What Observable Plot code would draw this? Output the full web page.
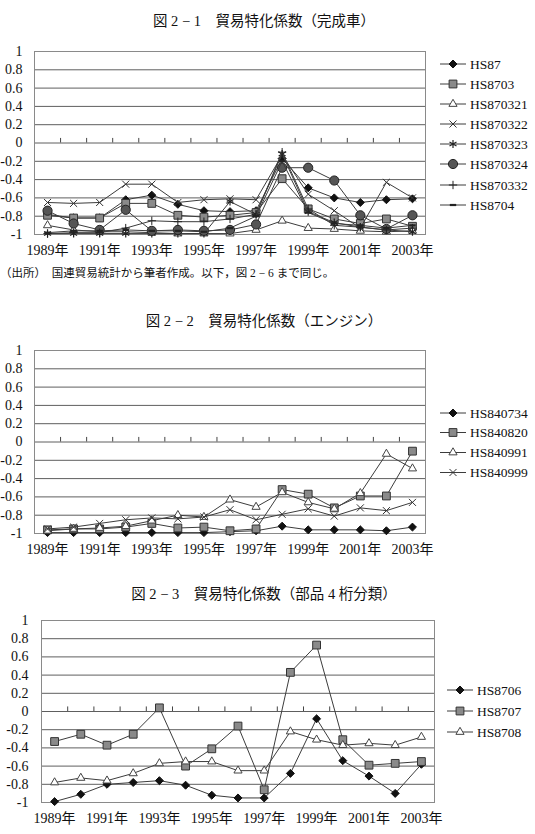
<!DOCTYPE html>
<html>
<head>
<meta charset="utf-8">
<script src="https://cdn.jsdelivr.net/npm/d3@7"></script>
<script src="https://cdn.jsdelivr.net/npm/@observablehq/plot@0.6"></script>
<style>
  body { margin: 0; background: #fff; }
  #page { position: relative; width: 535px; height: 834px; overflow: hidden;
          font-family: "Liberation Serif", "Noto Sans CJK JP", serif; color: #111; }
  .title { position: absolute; left: 0; width: 528px; text-align: center;
           font-size: 14.5px; line-height: 18px; white-space: nowrap; }
  .note { position: absolute; left: 0; font-size: 11.5px; line-height: 16px; white-space: nowrap; }
  .plot { position: absolute; left: 0; }
  #legends { position: absolute; left: 0; top: 0; }
</style>
</head>
<body>
<div id="page">
  <div class="title" style="top:12px">図 2 − 1　貿易特化係数（完成車）</div>
  <div class="note" style="top:265px">（出所）　国連貿易統計から筆者作成。以下，図 2 − 6 まで同じ。</div>
  <div class="title" style="top:312px">図 2 − 2　貿易特化係数（エンジン）</div>
  <div class="title" style="top:585px">図 2 − 3　貿易特化係数（部品 4 桁分類）</div>
</div>
<script>
// Years on the category axis and the labelled subset
const years = [1989, 1990, 1991, 1992, 1993, 1994, 1995, 1996, 1997, 1998, 1999, 2000, 2001, 2002, 2003];
const labelYears = [1989, 1991, 1993, 1995, 1997, 1999, 2001, 2003];
const yTicks = [-1, -0.8, -0.6, -0.4, -0.2, 0, 0.2, 0.4, 0.6, 0.8, 1];

// 図2-1 完成車
const hs87     = [-0.78, -0.82, -0.82, -0.62, -0.57, -0.67, -0.74, -0.75, -0.74, -0.17, -0.49, -0.60, -0.65, -0.62, -0.61];
const hs8703   = [-0.79, -0.82, -0.82, -0.66, -0.66, -0.79, -0.81, -0.79, -0.76, -0.39, -0.72, -0.83, -0.88, -0.83, -0.91];
const hs870321 = [-0.90, -0.95, -0.97, -0.97, -0.98, -0.99, -0.99, -0.99, -0.95, -0.85, -0.93, -0.94, -0.96, -0.97, -0.96];
const hs870322 = [-0.65, -0.66, -0.65, -0.45, -0.45, -0.65, -0.62, -0.61, -0.62, -0.13, -0.56, -0.74, -0.93, -0.43, -0.60];
const hs870323 = [-0.99, -0.99, -0.99, -0.99, -0.99, -0.99, -0.99, -0.64, -0.78, -0.12, -0.75, -0.87, -0.92, -0.95, -0.97];
const hs870324 = [-0.74, -0.88, -0.95, -0.73, -0.96, -0.95, -0.96, -0.95, -0.89, -0.27, -0.27, -0.41, -0.79, -0.94, -0.79];
const hs870332 = [-0.99, -0.98, -0.98, -0.93, -0.85, -0.86, -0.86, -0.83, -0.78, -0.10, -0.72, -0.90, -0.92, -0.95, -0.93];
const hs8704   = [-0.98, -0.96, -0.96, -0.95, -0.96, -0.96, -0.97, -0.93, -0.80, -0.20, -0.76, -0.88, -0.90, -0.93, -0.90];

// 図2-2 エンジン
const hs840734 = [-0.99, -0.99, -0.99, -0.99, -0.99, -0.99, -0.99, -0.98, -0.97, -0.92, -0.96, -0.96, -0.96, -0.97, -0.93];
const hs840820 = [-0.96, -0.95, -0.95, -0.93, -0.89, -0.94, -0.93, -0.97, -0.95, -0.52, -0.57, -0.72, -0.59, -0.59, -0.10];
const hs840991 = [-0.97, -0.95, -0.94, -0.92, -0.86, -0.80, -0.82, -0.63, -0.71, -0.55, -0.66, -0.73, -0.56, -0.13, -0.29];
const hs840999 = [-0.95, -0.93, -0.89, -0.85, -0.83, -0.84, -0.82, -0.74, -0.85, -0.79, -0.73, -0.81, -0.72, -0.75, -0.66];

// 図2-3 部品4桁分類
const hs8706 = [-0.99, -0.91, -0.80, -0.78, -0.76, -0.81, -0.92, -0.95, -0.95, -0.68, -0.08, -0.54, -0.71, -0.90, -0.58];
const hs8707 = [-0.33, -0.25, -0.37, -0.25, 0.04, -0.60, -0.41, -0.16, -0.86, 0.43, 0.73, -0.31, -0.59, -0.57, -0.55];
const hs8708 = [-0.78, -0.73, -0.76, -0.68, -0.57, -0.55, -0.55, -0.65, -0.65, -0.22, -0.31, -0.37, -0.35, -0.37, -0.28];

// Short horizontal bar marker
const dash = {draw(ctx, size) { const r = Math.sqrt(size / Math.PI); ctx.moveTo(-r, 0); ctx.lineTo(r, 0); }};

// Marker styles
const M = {
  diamond:  {symbol: "diamond2", r: 3.6, fill: "#111", stroke: "#111", sw: 1},
  square:   {symbol: "square",   r: 4.4, fill: "#8a8a8a", stroke: "#333", sw: 1},
  triangle: {symbol: "triangle2", r: 3.9, fill: "#fff", stroke: "#444", sw: 1},
  times:    {symbol: "times",    r: 3.3, fill: "none", stroke: "#333", sw: 1},
  asterisk: {symbol: "asterisk", r: 3.8, fill: "none", stroke: "#222", sw: 1.2},
  circle:   {symbol: "circle",   r: 4.6, fill: "#555", stroke: "#222", sw: 1},
  plus:     {symbol: "plus",     r: 2.8, fill: "none", stroke: "#222", sw: 1},
  dash:     {symbol: dash,       r: 3.2, fill: "none", stroke: "#222", sw: 2.2}
};

const chart1 = [
  {name: "HS87", values: hs87, ...M.diamond},
  {name: "HS8703", values: hs8703, ...M.square},
  {name: "HS870321", values: hs870321, ...M.triangle},
  {name: "HS870322", values: hs870322, ...M.times},
  {name: "HS870323", values: hs870323, ...M.asterisk},
  {name: "HS870324", values: hs870324, ...M.circle},
  {name: "HS870332", values: hs870332, ...M.plus},
  {name: "HS8704", values: hs8704, ...M.dash}
];
const chart2 = [
  {name: "HS840734", values: hs840734, ...M.diamond},
  {name: "HS840820", values: hs840820, ...M.square},
  {name: "HS840991", values: hs840991, ...M.triangle},
  {name: "HS840999", values: hs840999, ...M.times}
];
const chart3 = [
  {name: "HS8706", values: hs8706, ...M.diamond},
  {name: "HS8707", values: hs8707, ...M.square},
  {name: "HS8708", values: hs8708, ...M.triangle}
];

const page = document.getElementById("page");

// One line chart with markers; frame = plotting-area box in page pixels
function drawChart(series, frame) {
  const mt = 12, mb = 30, mr = 12;
  const marks = [
    Plot.ruleY(yTicks, {stroke: "#5e5e5e", strokeWidth: 1}),
    Plot.ruleX(years.slice(1), {x: d => d - 0.5, y1: 0, y2: 0.05, stroke: "#444", strokeWidth: 1}),
    Plot.frame({stroke: "#8a8a8a"})
  ];
  for (const s of series) {
    const rows = s.values.map((v, i) => ({year: years[i], value: v}));
    marks.push(Plot.line(rows, {x: "year", y: "value", stroke: "#3c3c3c", strokeWidth: 1}));
    marks.push(Plot.dot(rows, {x: "year", y: "value", symbol: s.symbol, r: s.r,
      fill: s.fill, stroke: s.stroke, strokeWidth: s.sw}));
  }
  const svg = Plot.plot({
    width: frame.right + mr,
    height: frame.bottom - frame.top + mt + mb,
    marginLeft: frame.left, marginRight: mr, marginTop: mt, marginBottom: mb,
    x: {type: "linear", domain: [1988.5, 2003.5], ticks: labelYears,
        tickFormat: d => `${d}年`, tickSize: 0, tickPadding: 11, label: null},
    y: {domain: [-1, 1], ticks: yTicks, tickFormat: d => String(+(+d).toFixed(1)),
        tickSize: 0, tickPadding: frame.pad, label: null},
    style: {fontFamily: '"Liberation Serif", "Noto Sans CJK JP", serif', fontSize: "14px",
            color: "#111", background: "transparent", overflow: "visible"},
    marks
  });
  svg.classList.add("plot");
  svg.style.top = (frame.top - mt) + "px";
  page.appendChild(svg);
}

drawChart(chart1, {left: 34, right: 425, top: 51, bottom: 234, pad: 12});
drawChart(chart2, {left: 34, right: 425, top: 350, bottom: 533, pad: 12});
drawChart(chart3, {left: 41, right: 434, top: 620, bottom: 802, pad: 13});

// Legends drawn beside each chart
const leg = d3.select(page).append("svg").attr("id", "legends")
  .attr("width", 535).attr("height", 834);
function legend(series, x0, ys) {
  series.forEach((s, i) => {
    const y = ys[i];
    const g = leg.append("g").attr("transform", `translate(${x0},${y})`);
    g.append("line").attr("x1", 0).attr("x2", 26).attr("stroke", "#3c3c3c").attr("stroke-width", 1);
    const sym = typeof s.symbol === "string"
      ? ({diamond2: d3.symbolDiamond2, square: d3.symbolSquare, triangle2: d3.symbolTriangle2,
          times: d3.symbolTimes, asterisk: d3.symbolAsterisk, circle: d3.symbolCircle,
          plus: d3.symbolPlus})[s.symbol]
      : s.symbol;
    g.append("path").attr("transform", "translate(13,0)")
      .attr("d", d3.symbol(sym, Math.PI * s.r * s.r)())
      .attr("fill", s.fill).attr("stroke", s.stroke).attr("stroke-width", s.sw);
    g.append("text").attr("x", 30).attr("y", 4.8).attr("font-size", 13.5)
      .attr("font-family", '"Liberation Serif", serif').attr("fill", "#111").text(s.name);
  });
}
legend(chart1, 440, [64, 84, 104, 124, 144, 164, 185, 205]);
legend(chart2, 440, [413, 432.5, 452.5, 472.5]);
legend(chart3, 447, [690, 711, 732]);
</script>
</body>
</html>
